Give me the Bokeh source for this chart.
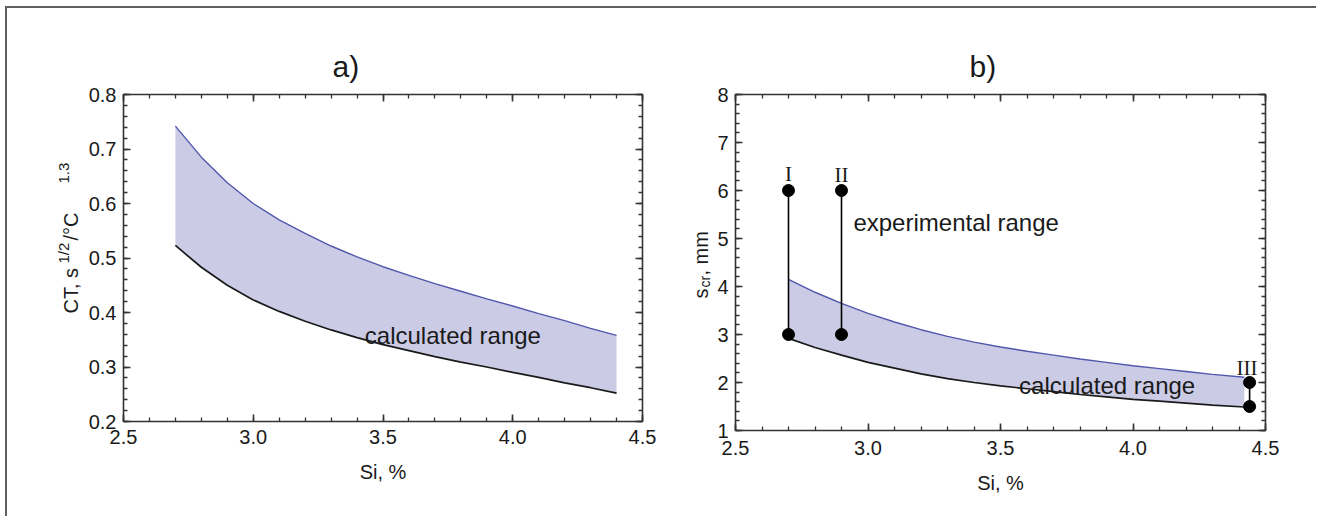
from bokeh.plotting import figure
from bokeh.models import (FixedTicker, LinearAxis, NumeralTickFormatter, Label, Range1d)
from bokeh.layouts import row
from bokeh.embed import file_html
from bokeh.resources import INLINE
from bokeh.core.properties import value
import numpy as np

# ---------------- data ----------------
# panel a)
si_a = [2.7, 2.8, 2.9, 3.0, 3.1, 3.2, 3.3, 3.4, 3.5, 3.6, 3.7, 3.8, 3.9, 4.0, 4.1, 4.2, 4.3, 4.4]
ct_upper = [0.742, 0.685, 0.638, 0.600, 0.570, 0.545, 0.522, 0.502, 0.484, 0.468,
            0.453, 0.439, 0.425, 0.412, 0.398, 0.385, 0.371, 0.358]
ct_lower = [0.523, 0.483, 0.450, 0.423, 0.402, 0.384, 0.368, 0.354, 0.341, 0.330,
            0.319, 0.309, 0.300, 0.290, 0.281, 0.271, 0.262, 0.252]

# panel b)
si_b = [2.7, 2.8, 2.9, 3.0, 3.1, 3.2, 3.3, 3.4, 3.5, 3.6, 3.7, 3.8, 3.9, 4.0, 4.1, 4.2, 4.3, 4.42]
scr_upper = [4.15, 3.88, 3.65, 3.44, 3.26, 3.10, 2.96, 2.84, 2.74, 2.65,
             2.57, 2.49, 2.42, 2.35, 2.29, 2.23, 2.17, 2.11]
scr_lower = [2.92, 2.73, 2.57, 2.42, 2.30, 2.18, 2.08, 2.00, 1.93, 1.87,
             1.81, 1.75, 1.70, 1.65, 1.61, 1.57, 1.53, 1.49]

exp_names = ["I", "II", "III"]
exp_si = [2.7, 2.9, 4.44]
exp_top = [6.0, 6.0, 2.0]
exp_bottom = [3.0, 3.0, 1.5]

x_ticks = [2.5, 3.0, 3.5, 4.0, 4.5]
ya_ticks = [0.2, 0.3, 0.4, 0.5, 0.6, 0.7, 0.8]
yb_ticks = [1, 2, 3, 4, 5, 6, 7, 8]

# rotated axis-label pieces (text, font size)
ylab_a = [("CT, s", "20px"), ("1/2", "15px"), ("/°C", "20px"), ("1.3", "15px")]
ylab_b = [("s", "20px"), ("cr", "14px"), (",  mm", "20px")]

# ---------------- styling ----------------
FONT = "Liberation Sans"
TXT = "#1a1a1a"
FRAME = "#333333"
FILL = "#cbcbe6"
BLUE = "#5057ad"
DARK = "#1a1a1a"


def frame_axes(p, xt, xminor, yt, yminor, yfmt, tick_standoff, label_standoff):
    p.xgrid.visible = False
    p.ygrid.visible = False
    p.outline_line_color = FRAME
    p.outline_line_width = 1.6
    p.xaxis.ticker = FixedTicker(ticks=xt, minor_ticks=xminor)
    p.yaxis.ticker = FixedTicker(ticks=yt, minor_ticks=yminor)
    p.xaxis.formatter = NumeralTickFormatter(format="0.0")
    p.yaxis.formatter = NumeralTickFormatter(format=yfmt)
    for loc, tk, mn in (("above", xt, xminor), ("right", yt, yminor)):
        ax = LinearAxis(ticker=FixedTicker(ticks=tk, minor_ticks=mn))
        ax.major_label_text_font_size = "0px"
        ax.major_label_text_color = None
        ax.major_label_standoff = 0
        p.add_layout(ax, loc)
    for ax in p.xaxis + p.yaxis:
        ax.axis_line_color = None
        ax.major_tick_in = 7
        ax.major_tick_out = 0
        ax.minor_tick_in = 4
        ax.minor_tick_out = 0
        ax.major_tick_line_color = FRAME
        ax.minor_tick_line_color = FRAME
        ax.major_tick_line_width = 1.6
        ax.minor_tick_line_width = 1.3
    for ax in (p.below[0], p.left[0]):
        ax.major_label_text_font = FONT
        ax.major_label_text_font_size = "20px"
        ax.major_label_text_color = TXT
    p.below[0].major_label_standoff = tick_standoff
    p.left[0].major_label_standoff = 7
    xa = p.below[0]
    xa.axis_label = "Si, %"
    xa.axis_label_text_font = FONT
    xa.axis_label_text_font_size = "20px"
    xa.axis_label_text_font_style = "normal"
    xa.axis_label_text_color = TXT
    xa.axis_label_standoff = label_standoff


def lab(p, text, x, y, size, align="left", font=FONT):
    p.add_layout(Label(x=x, y=y, text=text, text_font=font, text_font_size=size,
                       text_color=TXT, text_align=align, text_baseline="alphabetic"))


def label_strip(width, fh, top, bottom, pieces, xs, ys):
    # bare canvas whose frame lines up with the neighbouring plot frame;
    # its data units are its own pixels
    f = figure(frame_width=width, frame_height=fh, min_border_left=0, min_border_right=0,
               min_border_top=top, min_border_bottom=bottom,
               x_axis_type=None, y_axis_type=None,
               x_range=Range1d(0, width), y_range=Range1d(0, fh),
               output_backend="svg", toolbar_location=None)
    f.title.visible = False
    f.grid.visible = False
    f.outline_line_color = None
    for (t, s), x, y in zip(pieces, xs, ys):
        f.text(x=[x], y=[y], text=[t], angle=np.pi / 2, text_font=value(FONT),
               text_font_size=s, text_color=TXT, text_align="left",
               text_baseline="alphabetic")
    return f


def style_title(p, text, offset):
    p.title.text = text
    p.title.text_font = FONT
    p.title.text_font_size = "30px"
    p.title.text_font_style = "normal"
    p.title.text_color = TXT
    p.title.align = "left"
    p.title.offset = offset
    p.title.standoff = 24


# ---------------- panel a ----------------
la = label_strip(74, 327, 86, 95, ylab_a, [63, 56, 63, 56], [108, 158, 181, 238])

pa = figure(frame_width=519, frame_height=327, min_border_left=42, min_border_right=18,
            min_border_top=86, min_border_bottom=95,
            x_range=Range1d(2.5, 4.5), y_range=Range1d(0.2, 0.8),
            output_backend="svg", toolbar_location=None)
frame_axes(pa, x_ticks, list(np.round(np.arange(2.5, 4.501, 0.1), 2)),
           ya_ticks, list(np.round(np.arange(0.2, 0.8001, 0.02), 2)), "0.0", 8, 14)
pa.varea(x=si_a, y1=ct_lower, y2=ct_upper, fill_color=FILL)
pa.line(x=si_a, y=ct_upper, line_color=BLUE, line_width=1.4)
pa.line(x=si_a, y=ct_lower, line_color=DARK, line_width=1.7)
lab(pa, "calculated range", 3.43, 0.357, "24px")
style_title(pa, "a)", 209)

# ---------------- panel b ----------------
lb = label_strip(54, 336, 86, 86, ylab_b, [40, 44, 40], [132, 143, 155])

pb = figure(frame_width=530, frame_height=336, min_border_left=19, min_border_right=51,
            min_border_top=86, min_border_bottom=86,
            x_range=Range1d(2.5, 4.5), y_range=Range1d(1, 8),
            output_backend="svg", toolbar_location=None)
frame_axes(pb, x_ticks, list(np.round(np.arange(2.5, 4.501, 0.1), 2)),
           yb_ticks, list(np.round(np.arange(1, 8.001, 0.2), 2)), "0", 10, 14)
pb.varea(x=si_b, y1=scr_lower, y2=scr_upper, fill_color=FILL)
pb.line(x=si_b, y=scr_upper, line_color=BLUE, line_width=1.4)
pb.line(x=si_b, y=scr_lower, line_color=DARK, line_width=1.7)
pb.segment(x0=exp_si, y0=exp_bottom, x1=exp_si, y1=exp_top, line_color="black", line_width=1.6)
pb.scatter(x=exp_si, y=exp_top, size=12, fill_color="black", line_color="black")
pb.scatter(x=exp_si, y=exp_bottom, size=12, fill_color="black", line_color="black")
lab(pb, exp_names[0], exp_si[0], 6.35, "21px", align="center", font="Liberation Serif")
lab(pb, exp_names[1], exp_si[1], 6.33, "21px", align="center", font="Liberation Serif")
lab(pb, exp_names[2], 4.43, 2.31, "21px", align="center", font="Liberation Serif")
lab(pb, "experimental range", 2.945, 5.34, "24px")
lab(pb, "calculated range", 3.57, 1.94, "24px")
style_title(pb, "b)", 234)

layout = row(la, pa, lb, pb, margin=(6, 0, 0, 5),
             styles={"border-top": "2px solid #606060", "border-left": "2px solid #606060"})

open("out.html", "w").write(file_html(layout, INLINE))
